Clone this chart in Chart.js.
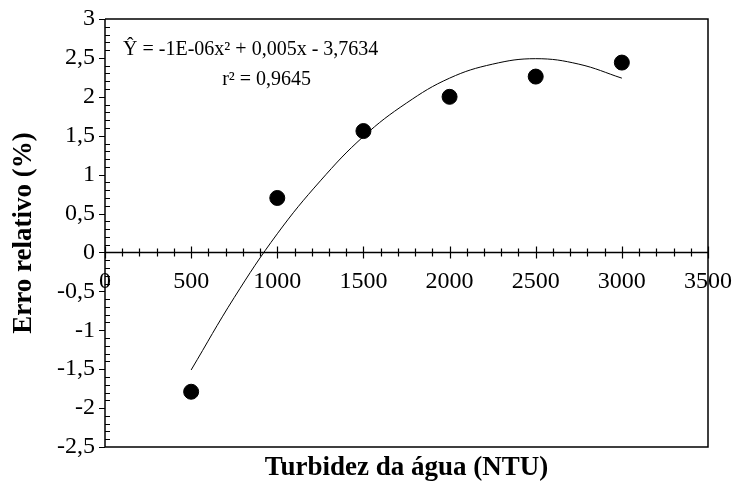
<!DOCTYPE html>
<html>
<head>
<meta charset="utf-8">
<script src="https://cdn.jsdelivr.net/npm/chart.js@4/dist/chart.umd.min.js"></script>
<style>
  html, body { margin: 0; padding: 0; background: #fff; }
  #wrap { width: 732px; height: 484px; }
</style>
</head>
<body>
<div id="wrap"><canvas id="chart"></canvas></div>
<script>
// measured points
const turbidity = [500, 1000, 1500, 2000, 2500, 3000];
const relError = [-1.79, 0.70, 1.56, 2.00, 2.26, 2.44];

// trend curve
const trendX = [500, 750, 1000, 1250, 1500, 1750, 2000, 2250, 2500, 2750, 3000];
const trendY = [-1.51, -0.58, 0.24, 0.92, 1.49, 1.92, 2.24, 2.42, 2.49, 2.42, 2.24];

const xTicks = [0, 500, 1000, 1500, 2000, 2500, 3000, 3500];
const yTicks = [-2.5, -2, -1.5, -1, -0.5, 0, 0.5, 1, 1.5, 2, 2.5, 3];

const eqLine1 = 'Ŷ = -1E-06x² + 0,005x - 3,7634';
const eqLine2 = 'r² = 0,9645';

const serif = "'Liberation Serif', 'Times New Roman', serif";
const comma = v => String(v).replace('.', ',');

// axes, tick marks and frame drawn like the original (cross ticks on the zero line)
const axesPlugin = {
  id: 'axesPlugin',
  afterDatasetsDraw(chart) {
    const { ctx, chartArea: a, scales } = chart;
    const x = scales.x, y = scales.y;
    const y0 = y.getPixelForValue(0);
    ctx.save();
    ctx.strokeStyle = '#000';
    ctx.lineWidth = 1.5;
    ctx.beginPath();
    // frame
    ctx.moveTo(a.left, a.top); ctx.lineTo(a.right, a.top);
    ctx.lineTo(a.right, a.bottom); ctx.lineTo(a.left, a.bottom);
    ctx.lineTo(a.left, a.top);
    // zero line
    ctx.moveTo(a.left, y0); ctx.lineTo(a.right, y0);
    ctx.stroke();

    ctx.lineWidth = 1.2;
    ctx.beginPath();
    // y ticks: major out, minor in
    for (let v = y.min; v <= y.max + 1e-9; v += 0.1) {
      const p = Math.round(y.getPixelForValue(v)) + 0.5;
      const major = Math.abs(v * 2 - Math.round(v * 2)) < 1e-6;
      if (major) { ctx.moveTo(a.left - 6, p); ctx.lineTo(a.left, p); }
      else { ctx.moveTo(a.left, p); ctx.lineTo(a.left + 5, p); }
    }
    // x ticks crossing the zero line
    for (let v = x.min; v <= x.max; v += 100) {
      const p = Math.round(x.getPixelForValue(v)) + 0.5;
      const h = v % 500 === 0 ? 6 : 4;
      ctx.moveTo(p, y0 - h); ctx.lineTo(p, y0 + h);
    }
    ctx.stroke();

    // equation
    ctx.fillStyle = '#000';
    ctx.font = '20px ' + serif;
    ctx.textBaseline = 'middle';
    ctx.textAlign = 'left';
    ctx.fillText(eqLine1, x.getPixelForValue(105), y.getPixelForValue(2.6));
    ctx.fillText(eqLine2, x.getPixelForValue(680), y.getPixelForValue(2.22));
    ctx.restore();
  }
};

new Chart(document.getElementById('chart'), {
  type: 'scatter',
  data: {
    datasets: [{
      type: 'line',
      data: trendX.map((v, i) => ({ x: v, y: trendY[i] })),
      borderColor: '#000',
      borderWidth: 1,
      pointRadius: 0,
      tension: 0.4,
      fill: false
    }, {
      data: turbidity.map((v, i) => ({ x: v, y: relError[i] })),
      backgroundColor: '#000',
      borderColor: '#000',
      pointRadius: 7.5,
      pointHoverRadius: 7.5
    }]
  },
  options: {
    responsive: true,
    maintainAspectRatio: false,
    animation: false,
    layout: { padding: { top: 19, right: 24, left: 0, bottom: 0 } },
    plugins: { legend: { display: false }, tooltip: { enabled: false } },
    scales: {
      x: {
        type: 'linear', position: 'bottom', min: 0, max: 3500,
        grid: { display: false, drawTicks: false }, border: { display: false },
        ticks: { display: false },
        title: {
          display: true, text: 'Turbidez da água (NTU)', color: '#000',
          font: { family: serif, size: 27, weight: 'bold' },
          padding: { top: 0, bottom: 0 }
        },
        afterFit: s => { s.height = 37; s.paddingLeft = 0; s.paddingRight = 0; }
      },
      xz: {
        type: 'linear', position: { y: 0 }, min: 0, max: 3500,
        grid: { display: false, drawTicks: false }, border: { display: false },
        afterBuildTicks: s => { s.ticks = xTicks.map(v => ({ value: v })); },
        ticks: {
          autoSkip: false, maxRotation: 0, padding: 15, color: '#000',
          font: { family: serif, size: 24 },
          callback: v => String(v)
        },
        afterFit: s => { s.paddingLeft = 0; s.paddingRight = 0; }
      },
      y: {
        type: 'linear', min: -2.5, max: 3,
        grid: { display: false, drawTicks: false }, border: { display: false },
        afterBuildTicks: s => { s.ticks = yTicks.map(v => ({ value: v })); },
        ticks: {
          autoSkip: false, padding: 10, color: '#000',
          font: { family: serif, size: 24 },
          callback: v => comma(v)
        },
        title: {
          display: true, text: 'Erro relativo (%)', color: '#000',
          font: { family: serif, size: 27, weight: 'bold' },
          padding: { top: 8, bottom: 0 }
        },
        afterFit: s => { s.width = 105; s.paddingTop = 0; s.paddingBottom = 0; }
      }
    }
  },
  plugins: [axesPlugin]
});
</script>
</body>
</html>
